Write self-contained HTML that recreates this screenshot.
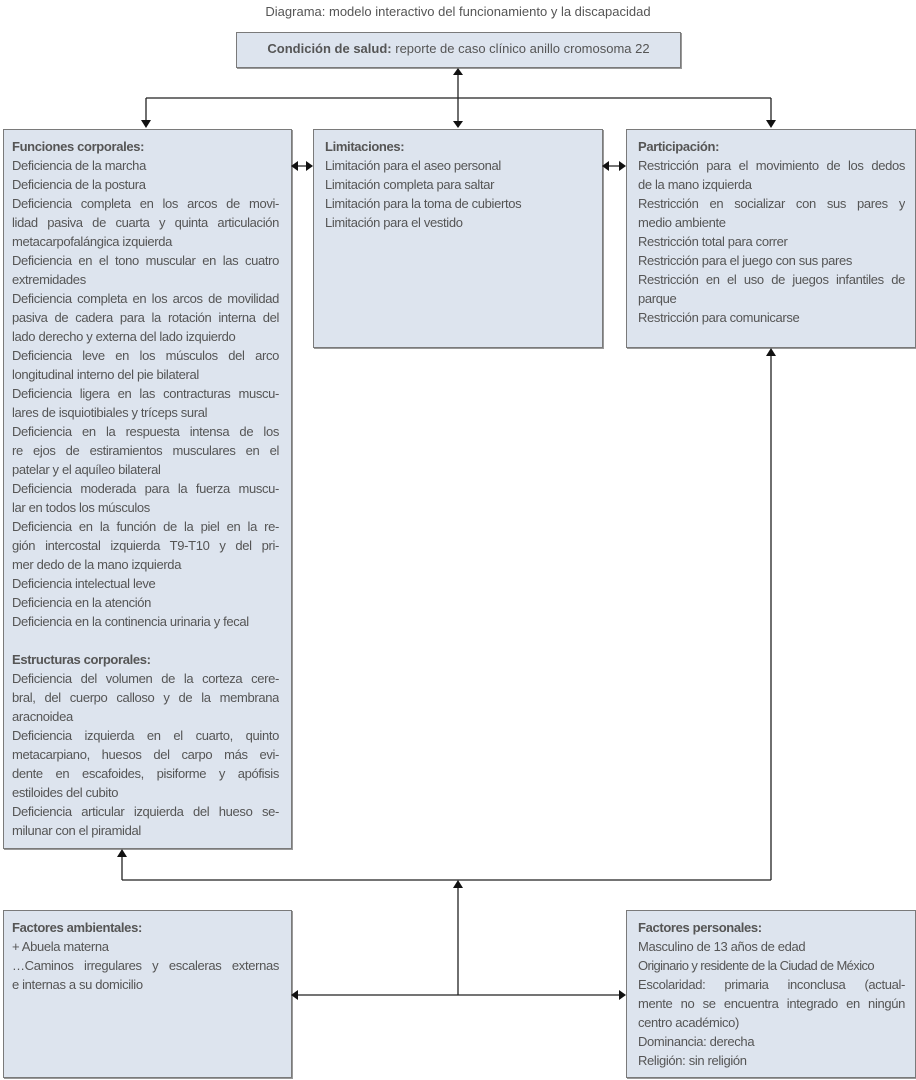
<!DOCTYPE html>
<html><head><meta charset="utf-8"><style>
body{margin:0;width:916px;height:1080px;background:#fff;position:relative;font-family:"Liberation Sans",sans-serif;color:#555;font-size:13px;letter-spacing:-0.35px;overflow:hidden}
.box{position:absolute;background:#dde4ee;border:1px solid #7a7a7a;box-shadow:1px 1px 0 #999;box-sizing:border-box}
.t{position:absolute;white-space:nowrap;line-height:19px}
.l{height:19px;line-height:19px;white-space:nowrap;overflow:visible}
.j{text-align:justify;text-align-last:justify;white-space:normal;overflow:hidden}
b{color:#555}
svg{position:absolute;left:0;top:0}
</style></head><body>
<div class="t" style="left:0;width:916px;text-align:center;top:2px;font-size:13px;letter-spacing:0">Diagrama: modelo interactivo del funcionamiento y la discapacidad</div>
<div class="box" style="left:236px;top:32px;width:445px;height:36px"></div>
<div class="t" style="left:236px;width:445px;text-align:center;top:39px;letter-spacing:0"><b>Condición de salud:</b> reporte de caso clínico anillo cromosoma 22</div>

<div class="box" style="left:3px;top:129px;width:289px;height:720px"></div>
<div class="box" style="left:313px;top:129px;width:290px;height:219px"></div>
<div class="box" style="left:626px;top:129px;width:290px;height:219px"></div>
<div class="box" style="left:3px;top:910px;width:289px;height:168px"></div>
<div class="box" style="left:626px;top:910px;width:290px;height:168px"></div>

<div class="t" style="left:12px;top:137px;width:267px">
<div class="l"><b>Funciones corporales:</b></div>
<div class="l">Deficiencia de la marcha</div>
<div class="l">Deficiencia de la postura</div>
<div class="l j">Deficiencia completa en los arcos de movi-</div>
<div class="l j">lidad pasiva de cuarta y quinta articulación</div>
<div class="l">metacarpofalángica izquierda</div>
<div class="l j">Deficiencia en el tono muscular en las cuatro</div>
<div class="l">extremidades</div>
<div class="l j">Deficiencia completa en los arcos de movilidad</div>
<div class="l j">pasiva de cadera para la rotación interna del</div>
<div class="l">lado derecho y externa del lado izquierdo</div>
<div class="l j">Deficiencia leve en los músculos del arco</div>
<div class="l">longitudinal interno del pie bilateral</div>
<div class="l j">Deficiencia ligera en las contracturas muscu-</div>
<div class="l">lares de isquiotibiales y tríceps sural</div>
<div class="l j">Deficiencia en la respuesta intensa de los</div>
<div class="l j">re ejos de estiramientos musculares en el</div>
<div class="l">patelar y el aquíleo bilateral</div>
<div class="l j">Deficiencia moderada para la fuerza muscu-</div>
<div class="l">lar en todos los músculos</div>
<div class="l j">Deficiencia en la función de la piel en la re-</div>
<div class="l j">gión intercostal izquierda T9-T10 y del pri-</div>
<div class="l">mer dedo de la mano izquierda</div>
<div class="l">Deficiencia intelectual leve</div>
<div class="l">Deficiencia en la atención</div>
<div class="l">Deficiencia en la continencia urinaria y fecal</div>
<div class="l"></div>
<div class="l"><b>Estructuras corporales:</b></div>
<div class="l j">Deficiencia del volumen de la corteza cere-</div>
<div class="l j">bral, del cuerpo calloso y de la membrana</div>
<div class="l">aracnoidea</div>
<div class="l j">Deficiencia izquierda en el cuarto, quinto</div>
<div class="l j">metacarpiano, huesos del carpo más evi-</div>
<div class="l j">dente en escafoides, pisiforme y apófisis</div>
<div class="l">estiloides del cubito</div>
<div class="l j">Deficiencia articular izquierda del hueso se-</div>
<div class="l">milunar con el piramidal</div>
</div>

<div class="t" style="left:325px;top:137px;width:267px">
<div class="l"><b>Limitaciones:</b></div>
<div class="l">Limitación para el aseo personal</div>
<div class="l">Limitación completa para saltar</div>
<div class="l">Limitación para la toma de cubiertos</div>
<div class="l">Limitación para el vestido</div>
</div>

<div class="t" style="left:638px;top:137px;width:267px">
<div class="l"><b>Participación:</b></div>
<div class="l j">Restricción para el movimiento de los dedos</div>
<div class="l">de la mano izquierda</div>
<div class="l j">Restricción en socializar con sus pares y</div>
<div class="l">medio ambiente</div>
<div class="l">Restricción total para correr</div>
<div class="l">Restricción para el juego con sus pares</div>
<div class="l j">Restricción en el uso de juegos infantiles de</div>
<div class="l">parque</div>
<div class="l">Restricción para comunicarse</div>
</div>

<div class="t" style="left:12px;top:918px;width:267px">
<div class="l"><b>Factores ambientales:</b></div>
<div class="l">+ Abuela materna</div>
<div class="l j">…Caminos irregulares y escaleras externas</div>
<div class="l">e internas a su domicilio</div>
</div>

<div class="t" style="left:638px;top:918px;width:267px">
<div class="l"><b>Factores personales:</b></div>
<div class="l">Masculino de 13 años de edad</div>
<div class="l" style="letter-spacing:-0.6px">Originario y residente de la Ciudad de México</div>
<div class="l j">Escolaridad: primaria inconclusa (actual-</div>
<div class="l j">mente no se encuentra integrado en ningún</div>
<div class="l">centro académico)</div>
<div class="l">Dominancia: derecha</div>
<div class="l">Religión: sin religión</div>
</div>

<svg width="916" height="1080" viewBox="0 0 916 1080">
<g stroke="#222" stroke-width="1.3" fill="none">
<path d="M146 98H771M146 98V121M771 98V121M458 74V122"/>
<path d="M297 166H307M608 166H620"/>
<path d="M122 880H771M122 880V856M771 880V355M458 995V888M297 995H620"/>
</g>
<g fill="#111">
<path d="M141 120L151 120L146 128Z"/><path d="M766 120L776 120L771 128Z"/>
<path d="M453 75L463 75L458 68Z"/><path d="M453 121L463 121L458 128Z"/>
<path d="M298 161L298 171L291 166Z"/><path d="M306 161L306 171L313 166Z"/>
<path d="M609 161L609 171L602 166Z"/><path d="M619 161L619 171L626 166Z"/>
<path d="M117 857L127 857L122 849Z"/><path d="M766 356L776 356L771 348Z"/>
<path d="M453 888L463 888L458 880Z"/>
<path d="M298 990L298 1000L291 995Z"/><path d="M619 990L619 1000L626 995Z"/>
</g>
</svg>
</body></html>
